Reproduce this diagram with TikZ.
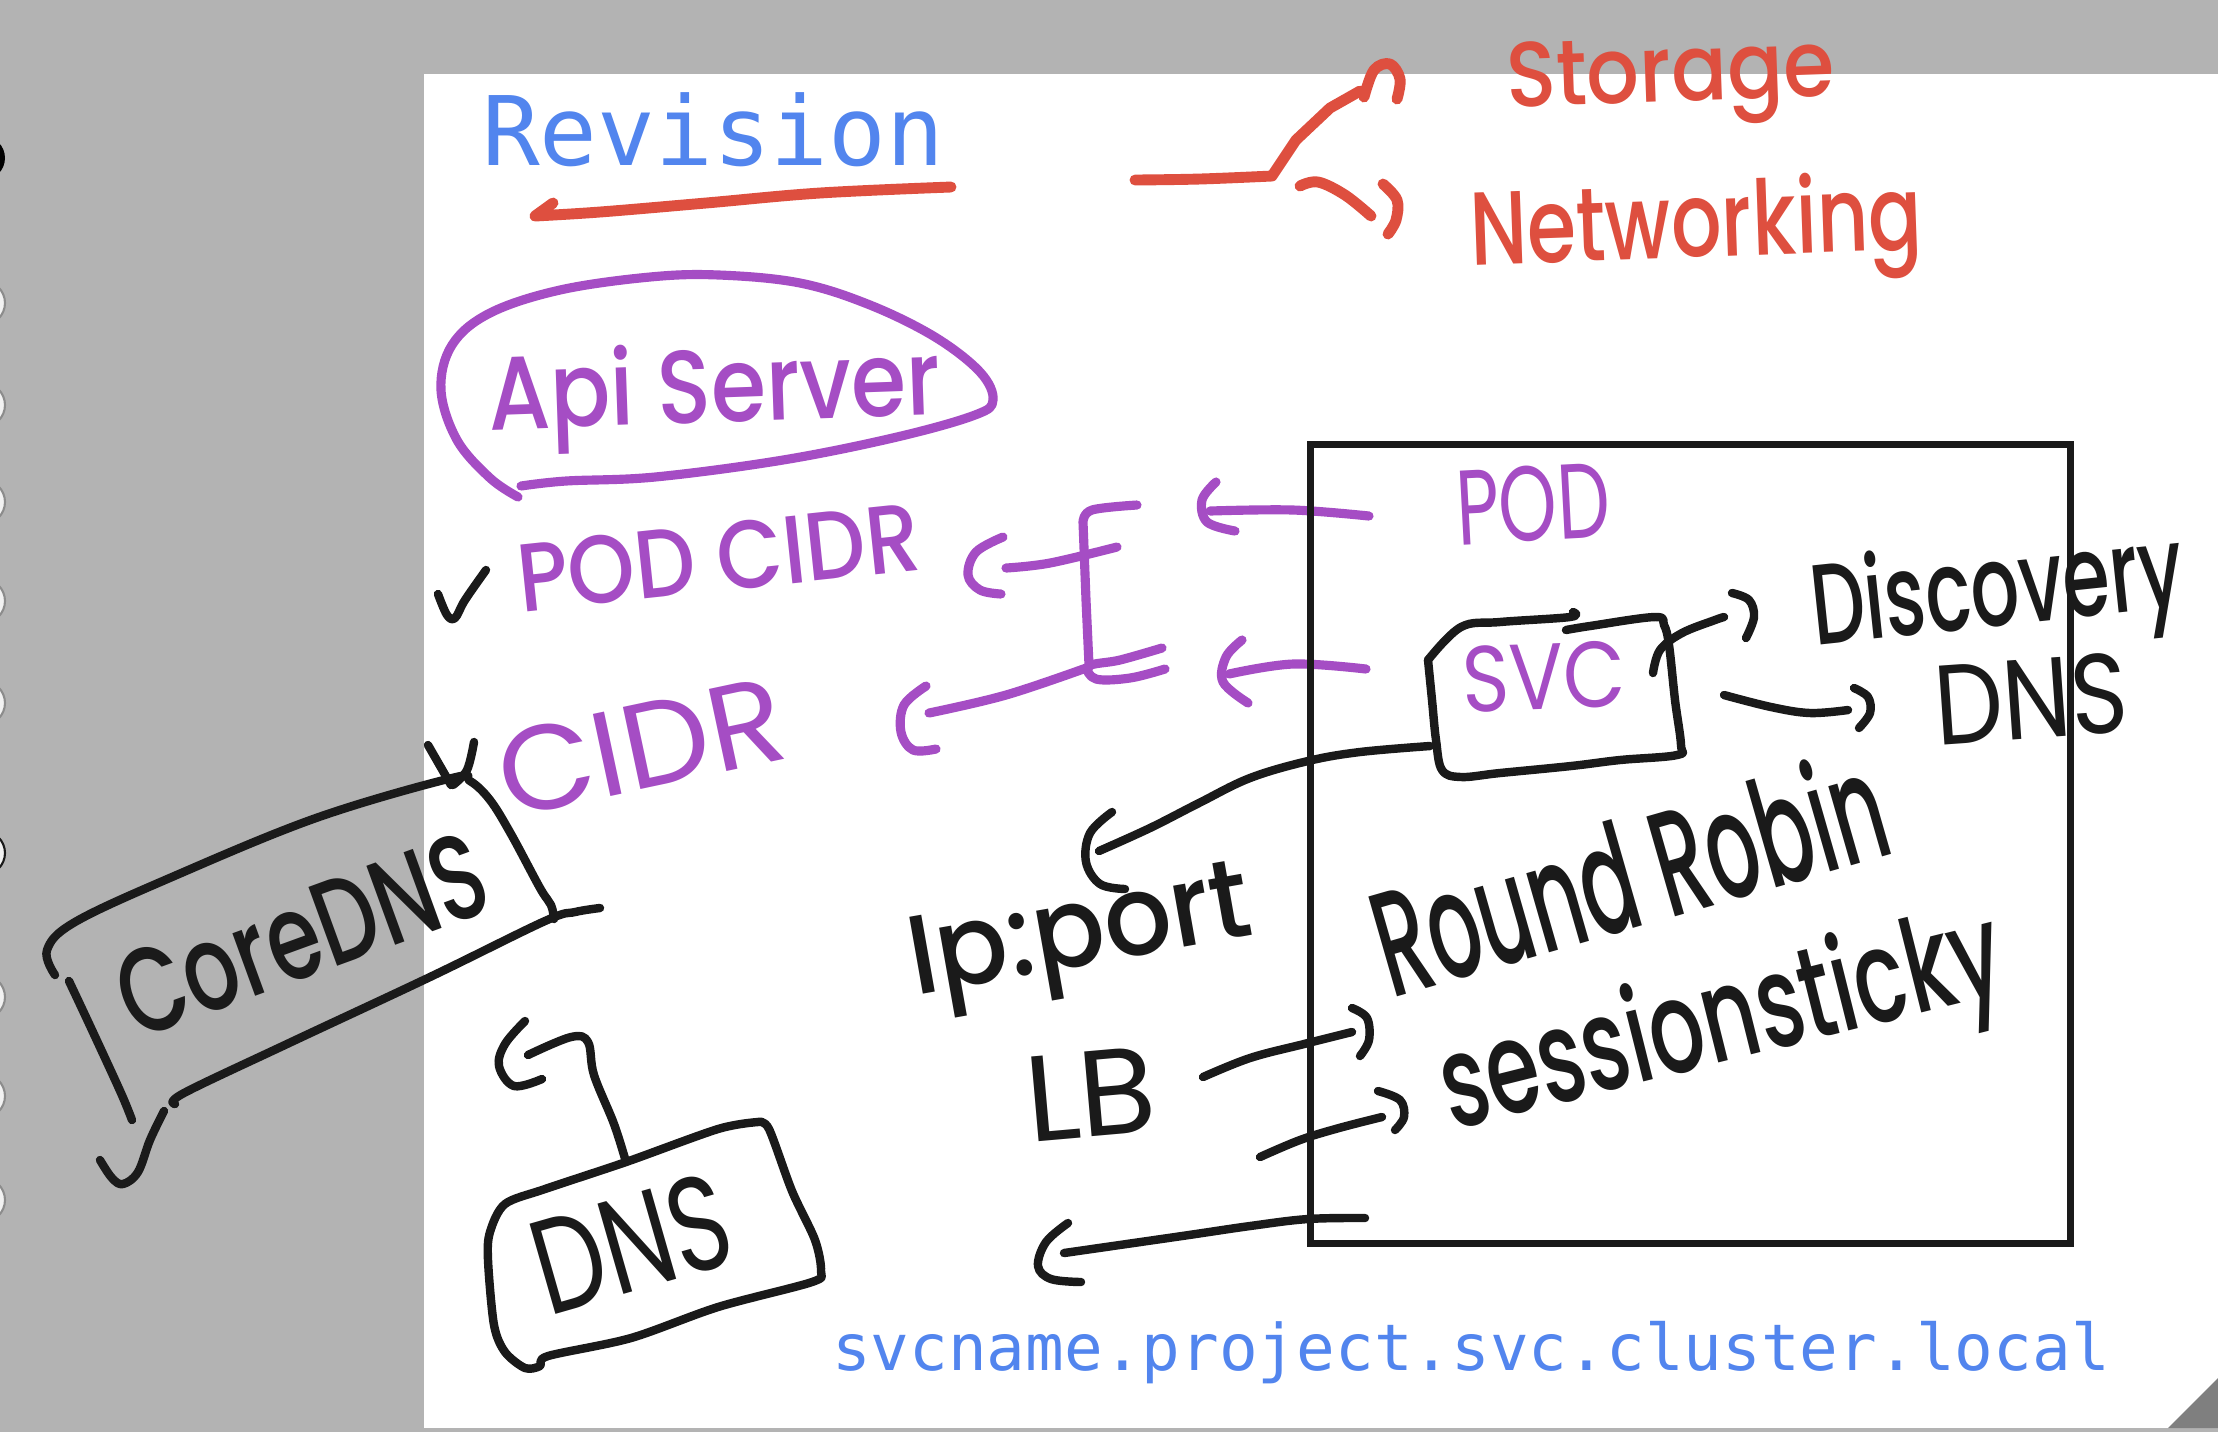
\documentclass[tikz,border=0pt]{standalone}
\usepackage{fontspec}
\newfontfamily\hand{Poppins}
\newfontfamily\handm{Poppins Medium}
\newfontfamily\mono{DejaVu Sans Mono}
\definecolor{bggrey}{HTML}{B3B3B3}
\definecolor{dkgrey}{HTML}{7F7F7F}
\definecolor{holefill}{HTML}{F2F2F2}
\definecolor{holeedge}{HTML}{8C8C8C}
\definecolor{ink}{HTML}{1A1A1A}
\definecolor{redink}{HTML}{DE4F3F}
\definecolor{purpink}{HTML}{A54DC4}
\definecolor{blueink}{HTML}{5285EE}
\newcommand\hw[3]{\resizebox{#1mm}{#2mm}{\hand #3}}
\newcommand\hwm[3]{\resizebox{#1mm}{#2mm}{\handm #3}}
\tikzset{
  pen/.style={line cap=round, line join=round},
  blk/.style={pen, draw=ink, line width=2.4pt},
  redpen/.style={pen, draw=redink, line width=3.1pt},
  purppen/.style={pen, draw=purpink, line width=2.6pt},
  txt/.style={inner sep=0pt, outer sep=0pt, anchor=base west},
  hole/.style={fill=holefill, draw=holeedge, line width=0.6pt},
  sm/.style={smooth, tension=0.6}
}
\begin{document}
\begin{tikzpicture}[x=0.1mm, y=-0.1mm]
\useasboundingbox (0,0) rectangle (2218,1432);
% background and page
\fill[bggrey] (0,0) rectangle (2218,1432);
\fill[white] (424,74) rectangle (2218,1428);
\fill[dkgrey] (2168,1428) -- (2218,1378) -- (2218,1428) -- cycle;
% binder holes on the left
\fill[black] (-17,158) circle[radius=22];
\foreach \yy in {303,405,502,601,703,997,1096,1200} {\filldraw[hole] (-17,\yy) circle[radius=22];}
\filldraw[hole, draw=ink] (-17,853) circle[radius=22];

% ---------- blue typed texts ----------
\node[txt, text=blueink] (rev) at (482,165) {\fontsize{27.3pt}{30pt}\selectfont\mono Revision};
\node[txt, text=blueink] (fqdn) at (832,1370) {\fontsize{18.3pt}{20pt}\selectfont\mono svcname.project.svc.cluster.local};

% ---------- red ----------
\draw[redpen] plot[sm] coordinates {(951,187) (820,193) (706,203) (600,212) (535,216)} -- (553,203);
\draw[redpen] plot[sm] coordinates {(1135,180) (1200,179) (1272,176)}
  -- (1296,140) -- (1330,108) -- (1360,91);
\draw[redpen] plot[sm] coordinates {(1364,97) (1374,70) (1390,64) (1400,79) (1397,99)};
\draw[redpen] plot[sm] coordinates {(1300,186) (1318,182) (1345,195) (1371,216)};
\draw[redpen] plot[sm] coordinates {(1383,184) (1397,200) (1396,220) (1388,234)};
\node[txt, text=redink, rotate=2] (storage) at (1507,107) {\hwm{32.9}{6.5}{Storage}};
\node[txt, text=redink, rotate=2] (netw) at (1471,265) {\hwm{45.3}{8.0}{Networking}};

% ---------- purple ----------
\draw[purppen] plot[sm] coordinates {(518,497) (490,478) (457,440) (441,390) (452,345) (490,313) (560,290) (650,277) (719,275) (800,283) (870,305) (935,337) (980,372) (993,400) (975,415) (897,437) (783,460) (655,477) (566,481) (521,486)};
\node[txt, text=purpink, rotate=2] (api) at (489,430) {\hwm{45.3}{8.0}{Api Server}};
\node[txt, text=purpink, rotate=6] (podcidr) at (521,612) {\hwm{40.4}{6.8}{POD CIDR}};
\node[txt, text=purpink, rotate=12] (cidr) at (508,818) {\hw{29.0}{8.5}{CIDR}};
\node[txt, text=purpink, rotate=3] (pod) at (1458,545) {\hw{15.4}{7.5}{POD}};
\node[txt, text=purpink, rotate=2] (svc) at (1463,712) {\hw{16.4}{6.6}{SVC}};
% bracket structure
\draw[purppen] plot[sm] coordinates {(1003,537) (976,552) (968,575) (980,590) (1001,594)};
\draw[purppen] plot[sm] coordinates {(1006,568) (1050,563) (1117,547)};
\draw[purppen] plot[sm] coordinates {(1137,505) (1092,510) (1083,522)} -- (1086,600) -- (1089,665);
\draw[purppen] plot[sm] coordinates {(1162,648) (1120,660) (1089,666) (1096,679) (1130,678) (1165,669)};
\draw[purppen] plot[sm] coordinates {(1089,667) (1006,695) (929,713)};
\draw[purppen] plot[sm] coordinates {(926,686) (904,705) (901,732) (913,750) (936,749)};
% arrows from POD and SVC
\draw[purppen] plot[sm] coordinates {(1369,516) (1293,510) (1210,511)};
\draw[purppen] plot[sm] coordinates {(1216,482) (1202,500) (1207,522) (1235,531)};
\draw[purppen] plot[sm] coordinates {(1366,669) (1293,664) (1229,674)};
\draw[purppen] plot[sm] coordinates {(1242,640) (1226,657) (1223,682) (1248,703)};

% ---------- black ----------
\draw[ink, line width=2pt] (1310,444) rectangle (2070,1243);
% check mark
\draw[blk] plot[sm] coordinates {(438,594) (447,615) (455,618) (465,600) (486,570)};
% SVC box
\draw[blk] plot[sm] coordinates {(1428,660) (1461,627) (1500,622) (1570,617) (1573,612)};
\draw[blk] plot[sm] coordinates {(1566,630) (1590,626) (1655,617) (1664,625) (1669,645) (1675,700) (1681,745) (1677,755) (1620,760) (1571,766) (1500,773) (1461,777) (1442,770) (1436,740) (1432,700) (1428,660)};
% svc -> discovery
\draw[blk] plot[sm] coordinates {(1653,673) (1660,650) (1682,633) (1715,620) (1724,617)};
\draw[blk] plot[sm] coordinates {(1732,593) (1749,600) (1754,617) (1746,638)};
% svc -> dns
\draw[blk] plot[sm] coordinates {(1724,695) (1771,707) (1810,713) (1848,710)};
\draw[blk] plot[sm] coordinates {(1854,688) (1868,697) (1870,713) (1859,728)};
\node[txt, text=ink, rotate=6] (disc) at (1815,645) {\hwm{37.4}{8.8}{Discovery}};
\node[txt, text=ink, rotate=4] (dnsr) at (1937,745) {\hw{19.4}{8.0}{DNS}};
% svc -> ip:port
\draw[blk] plot[sm] coordinates {(1430,746) (1360,752) (1308,761) (1250,778) (1199,803) (1150,828) (1099,851)};
\draw[blk] plot[sm] coordinates {(1112,812) (1090,833) (1086,862) (1100,884) (1125,889)};
\node[txt, text=ink, rotate=10] (ipport) at (915,995) {\hwm{34.6}{7.8}{Ip:port}};
\node[txt, text=ink, rotate=5] (lb) at (1029,1142) {\hw{13.1}{8.5}{LB}};
% LB arrows
\draw[blk] plot[sm] coordinates {(1203,1077) (1250,1058) (1304,1044) (1352,1032)};
\draw[blk] plot[sm] coordinates {(1352,1008) (1367,1018) (1369,1040) (1360,1056)};
\draw[blk] plot[sm] coordinates {(1260,1157) (1300,1140) (1339,1128) (1382,1117)};
\draw[blk] plot[sm] coordinates {(1378,1091) (1400,1100) (1404,1117) (1395,1130)};
\node[txt, text=ink, rotate=16] (rr) at (1391,998) {\hwm{52.6}{11.5}{Round Robin}};
\node[txt, text=ink, rotate=14] (sticky) at (1452,1130) {\hwm{57.5}{10.0}{sessionsticky}};
% bottom arrow
\draw[blk] plot[sm] coordinates {(1365,1218) (1308,1219) (1250,1226) (1182,1236) (1064,1253)};
\draw[blk] plot[sm] coordinates {(1068,1223) (1046,1242) (1038,1266) (1051,1279) (1081,1282)};
% CoreDNS box
\draw[blk] plot[sm] coordinates {(55,975) (47,950) (75,922) (172,877) (316,818) (452,778) (470,781) (490,800) (511,834) (540,888) (551,905) (554,919)};
\draw[blk] (428,745) -- (451,785);
\draw[blk] plot[sm] coordinates {(474,742) (467,770) (453,785)};
\draw[blk] plot[sm] coordinates {(600,908) (575,912) (545,921) (430,977) (287,1044) (184,1093) (175,1104)};
\draw[blk] plot[sm] coordinates {(69,981) (92,1030) (121,1093) (132,1120)};
\draw[blk] plot[sm] coordinates {(100,1160) (112,1178) (123,1184) (138,1172) (150,1140) (164,1111)};
\node[txt, text=ink, rotate=20] (coredns) at (135,1040) {\hwm{38.5}{8.5}{CoreDNS}};
% DNS box
\draw[blk] plot[smooth, tension=0.5] coordinates {(758,1122) (718,1129) (626,1162) (545,1189) (505,1204) (490,1232) (488,1260) (494,1325) (505,1352) (525,1368) (540,1366) (548,1356) (631,1338) (718,1307) (812,1282) (821,1271) (815,1240) (792,1191) (769,1129) (758,1122)};
\draw[blk] plot[sm] coordinates {(626,1162) (614,1124) (594,1075) (588,1042) (571,1037) (528,1055)};
\draw[blk] plot[sm] coordinates {(525,1021) (505,1044) (499,1066) (514,1086) (542,1079)};
\node[txt, text=ink, rotate=16] (dnsbox) at (548,1316) {\hw{20.0}{9.5}{DNS}};
\end{tikzpicture}
\end{document}
